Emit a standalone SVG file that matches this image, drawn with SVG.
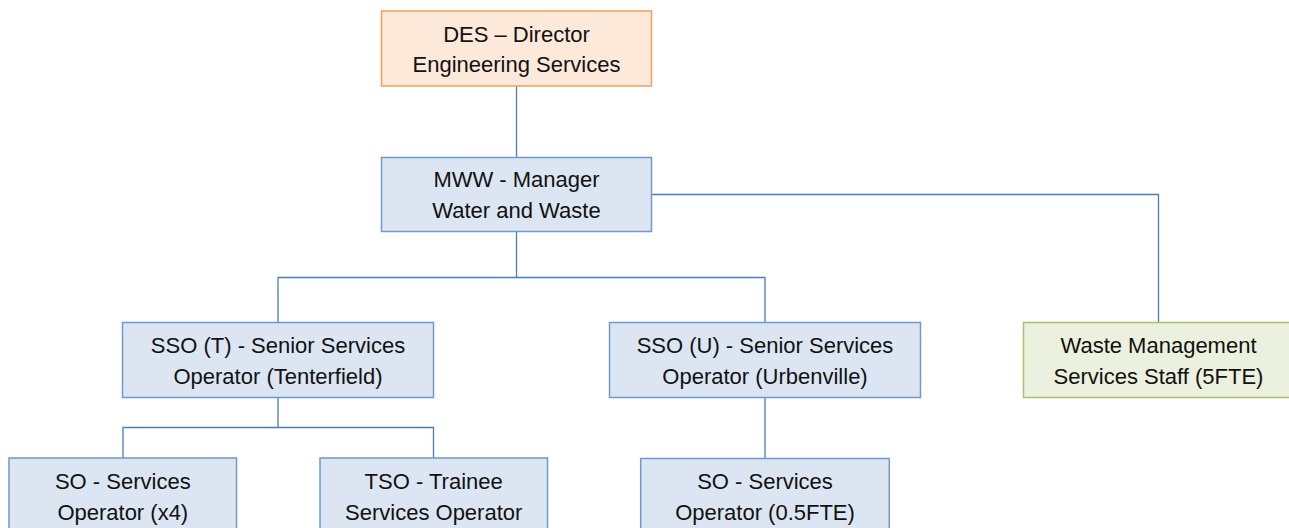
<svg xmlns="http://www.w3.org/2000/svg" width="1289" height="528" viewBox="0 0 1289 528">
<style>
.box{fill:#DCE6F2;stroke:#7097CE;stroke-width:1.5}
.des{fill:#FDE9D9;stroke:#F59D56;stroke-width:1.5}
.waste{fill:#EBF1DE;stroke:#A6C36A;stroke-width:1.5}
.conn{fill:none;stroke:#4A7EBB;stroke-width:1.3}
text{font-family:"Liberation Sans",Arial,sans-serif;font-size:22px;fill:#111;text-anchor:middle}
</style>
<rect width="1289" height="528" fill="#fff"/>
<g id="connectors">
<path class="conn" d="M516.5 86V157.5"/>
<path class="conn" d="M516.5 231.5V277.5M278 322.5V277.5H765V322.5"/>
<path class="conn" d="M651.5 194.5H1158.5V322.5"/>
<path class="conn" d="M278 397.5V427.5M123 458V427.5H433.5V458"/>
<path class="conn" d="M765 397.5V458.5"/>
</g>
<g id="des">
<rect class="des" x="381.5" y="11" width="270" height="75"/>
<text x="516.5" y="41.5">DES – Director</text>
<text x="516.5" y="72">Engineering Services</text>
</g>
<g id="mww">
<rect class="box" x="381.5" y="157.5" width="270" height="74"/>
<text x="516.5" y="187">MWW - Manager</text>
<text x="516.5" y="217.5">Water and Waste</text>
</g>
<g id="sso-t">
<rect class="box" x="122.5" y="322.5" width="311" height="75"/>
<text x="278" y="353">SSO (T) - Senior Services</text>
<text x="278" y="383.5">Operator (Tenterfield)</text>
</g>
<g id="sso-u">
<rect class="box" x="609.5" y="322.5" width="311" height="75"/>
<text x="765" y="353">SSO (U) - Senior Services</text>
<text x="765" y="383.5">Operator (Urbenville)</text>
</g>
<g id="waste">
<rect class="waste" x="1023.5" y="322.5" width="270" height="75"/>
<text x="1158.5" y="353">Waste Management</text>
<text x="1158.5" y="383.5">Services Staff (5FTE)</text>
</g>
<g id="so-x4">
<rect class="box" x="9" y="458" width="227.5" height="75"/>
<text x="122.8" y="489">SO - Services</text>
<text x="122.8" y="519.5">Operator (x4)</text>
</g>
<g id="tso">
<rect class="box" x="320" y="458" width="227.5" height="75"/>
<text x="433.7" y="489">TSO - Trainee</text>
<text x="433.7" y="519.5">Services Operator</text>
</g>
<g id="so-05">
<rect class="box" x="640.7" y="458.5" width="248.6" height="75"/>
<text x="765" y="489">SO - Services</text>
<text x="765" y="519.5">Operator (0.5FTE)</text>
</g>
</svg>
